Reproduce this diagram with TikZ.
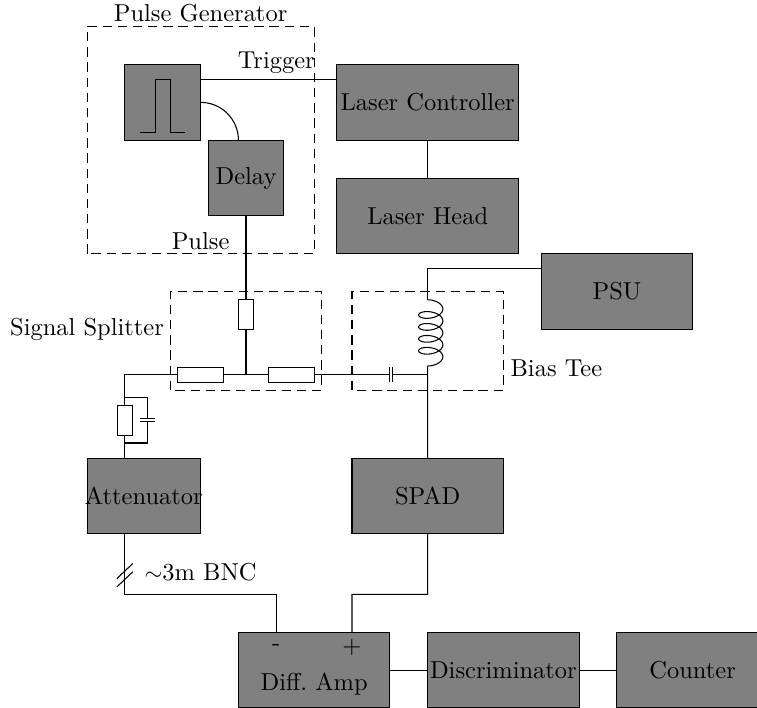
\documentclass[tikz,border=0pt]{standalone}
\usepackage{fontspec}
\setmainfont{lmroman10-regular.otf}
\usepackage{tikz}
\usetikzlibrary{positioning}
\definecolor{boxc}{HTML}{808080}
\begin{document}
\begin{tikzpicture}[node distance=1cm,line width=0.8pt,every node/.style={font=\fontsize{18.4}{22}\selectfont}]
\tikzstyle{box}=[draw,fill=boxc,minimum width=4cm,minimum height=2cm,inner sep=0pt,outer sep=0pt,align=center]
\tikzstyle{smallbox}=[box,minimum width=2cm]
\tikzstyle{midbox}=[box,minimum width=3cm]
\tikzstyle{widebox}=[box,minimum width=4.8cm]
\tikzstyle{group}=[draw,dash pattern=on 7pt off 4.4pt]
\tikzstyle{resv}=[draw,fill=white,minimum width=4mm,minimum height=8mm,inner sep=0pt,outer sep=0pt]
\tikzstyle{resh}=[draw,fill=white,minimum width=12mm,minimum height=4mm,inner sep=0pt,outer sep=0pt]
\useasboundingbox (0,0) rectangle (20,18.705);
% dashed groups
\draw[group] (2.3,12) rectangle (8.3,18);
\draw[group] (4.5,8.4) rectangle (8.5,11);
\draw[group] (9.3,8.4) rectangle (13.3,11);
% main boxes
\node[smallbox] (pulsegen) at (4.3,16) {};
\node[smallbox,below right=0cm and 0.2cm of pulsegen] (delay) {Delay};
\node[widebox,right=3.6cm of pulsegen] (lasercon) {Laser Controller};
\node[widebox,below=of lasercon] (laserhead) {Laser Head};
\node[box] (psu) at (16.3,11) {PSU};
\node[midbox] (atten) at (3.8,5.6) {\makebox[0pt]{Attenuator}};
\node[box,right=4cm of atten] (spad) {SPAD};
\node[box] (diffamp) at (8.3,1) {};
\node[box,right=of diffamp] (disc) {Discriminator};
\node[box,right=of disc] (counter) {Counter};
\node (difflabel) at (8.3,0.62) {Diff.\ Amp};
\node (minus) at (7.3,1.6) {-};
\node (plus) at (9.3,1.6) {+};
% pulse shape
\draw (3.7,15.2) -- (4.1,15.2) -- (4.1,16.6) -- (4.5,16.6) -- (4.5,15.2) -- (4.9,15.2);
% splitter
\node[resv] (rtop) at (6.5,10.4) {};
\node[resh] (rleft) at (5.3,8.8) {};
\node[resh] (rright) at (7.7,8.8) {};
\node[resv] (ratt) at (3.3,7.6) {};
\coordinate (tee) at (6.5,8.8);
\coordinate (corner) at (3.3,8.8);
\coordinate (railtop) at (3.3,8.2);
\coordinate (railbot) at (3.3,7);
\coordinate (capatop) at (3.9,7.66);
\coordinate (capabot) at (3.9,7.56);
\coordinate (capbl) at (10.28,8.8);
\coordinate (capbr) at (10.38,8.8);
\coordinate (biasj) at (11.3,8.8);
\coordinate (coiltop) at (11.3,10.78);
\coordinate (coilbot) at (11.3,9.04);
\coordinate (psuc) at (11.3,11.6);
\coordinate (bncl) at (3.3,3);
\coordinate (spadl) at (11.3,3);
% wires
\draw ([yshift=6mm]pulsegen.east) -- ([yshift=6mm]lasercon.west);
\draw (pulsegen.east) arc[start angle=90,end angle=0,radius=1cm];
\draw (delay) -- (rtop);
\draw (rtop) -- (tee);
\draw (rleft) -- (rright);
\draw (rleft) -- (corner) -- (railtop) -- (ratt);
\draw (ratt) -- (railbot) -- (railbot |- atten.north);
\draw (railtop) -| (capatop);
\draw (railbot) -| (capabot);
\draw (3.7,7.66) -- (4.1,7.66);
\draw (3.7,7.56) -- (4.1,7.56);
\draw (rright) -- (capbl);
\draw (capbr) -- (biasj);
\draw (10.28,8.6) -- (10.28,9);
\draw (10.38,8.6) -- (10.38,9);
\draw (psu.west |- psuc) -- (psuc) -- (coiltop);
\draw (coiltop) -- plot[domain=0:1620,samples=180,smooth] ({11.38+0.32*sin(\x)},{10.62-0.0502*rad(\x)+0.16*cos(\x)}) -- (coilbot);
\draw (coilbot) -- (spad.north);
\draw (lasercon) -- (laserhead);
\draw (atten.south -| bncl) -- (bncl) -| ([xshift=-1cm]diffamp.north);
\draw (spad.south) -- (spadl) -| ([xshift=1cm]diffamp.north);
\draw (3.09,3.42) -- (3.51,3.82);
\draw (3.09,3.2) -- (3.51,3.6);
\draw (diffamp) -- (disc);
\draw (disc) -- (counter);
% labels
\node (pglabel) at (5.3,18.36) {Pulse Generator};
\node (triglabel) at (7.3,17.04) {Trigger};
\node (pulselabel) at (5.3,12.34) {Pulse};
\node (splitlabel) at (2.3,10) {Signal Splitter};
\node (biaslabel) at (14.7,8.98) {Bias Tee};
\node (bnclabel) at (5.3,3.6) {$\sim$3m BNC};
\end{tikzpicture}
\end{document}
